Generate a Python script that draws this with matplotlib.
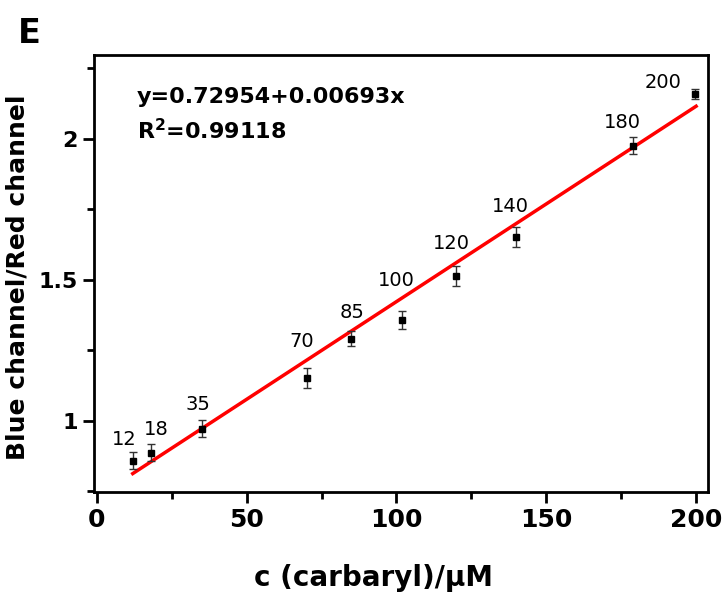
import matplotlib
matplotlib.use("Agg")
import matplotlib.pyplot as plt
from matplotlib.ticker import MultipleLocator
import numpy as np

plt.rcParams['font.family'] = ['DejaVu Sans']

# data
conc = [12, 18, 35, 70, 85, 102, 120, 140, 179, 199.5]
labels = ["12", "18", "35", "70", "85", "100", "120", "140", "180", "200"]
ratio = [0.858, 0.887, 0.972, 1.152, 1.291, 1.358, 1.514, 1.652, 1.975, 2.160]
err = [0.030, 0.030, 0.030, 0.035, 0.026, 0.032, 0.035, 0.035, 0.030, 0.018]
intercept = 0.72954
slope = 0.00693
fit_range = [12, 200]

# label offsets in pixels (style)
label_offsets = [(-8, 21), (6, 23), (-4, 24), (-5, 36), (1, 26), (-6, 39),
                 (-5, 32), (-6, 30), (-11, 23), (-32, 11)]

fig = plt.figure(figsize=(7.27, 6.02), dpi=100)
ax = fig.add_axes([0.129, 0.183, 0.845, 0.726])

xf = np.array(fit_range)
ax.plot(xf, intercept + slope * xf, color='#ff0000', lw=2.5, zorder=2)
ax.errorbar(conc, ratio, yerr=err, fmt='s', color='black', ms=4,
            ecolor='#333333', elinewidth=1, capsize=3, capthick=1, zorder=3)

for x, y, lab, (dx, dy) in zip(conc, ratio, labels, label_offsets):
    ax.annotate(lab, (x, y), xytext=(dx, dy), textcoords='offset pixels',
                ha='center', va='center', fontsize=14)

ax.text(0.07, 0.926, "y=0.72954+0.00693x\nR$^\\mathbf{2}$=0.99118",
        transform=ax.transAxes, ha='left', va='top', fontsize=16,
        fontweight='bold', linespacing=1.5)

ax.set_xlim(-1, 204)
ax.set_ylim(0.748, 2.298)
ax.xaxis.set_major_locator(MultipleLocator(50))
ax.xaxis.set_minor_locator(MultipleLocator(25))
ax.set_yticks([1, 1.5, 2])
ax.set_yticklabels(["1", "1.5", "2"])
ax.yaxis.set_minor_locator(MultipleLocator(0.25))
ax.tick_params(which='major', direction='out', length=8, width=2,
               top=False, right=False)
ax.tick_params(which='minor', direction='out', length=5, width=2,
               top=False, right=False)
ax.tick_params(axis='x', labelsize=18)
ax.tick_params(axis='y', labelsize=16)
for lab in ax.get_xticklabels() + ax.get_yticklabels():
    lab.set_fontweight('bold')
for s in ax.spines.values():
    s.set_linewidth(2)

ax.set_xlabel("c (carbaryl)/μM", fontsize=20, fontweight='bold', va='center')
ax.set_ylabel("Blue channel/Red channel", fontsize=18, fontweight='bold', va='center')
ax.xaxis.set_label_coords(0.455, -0.197)
ax.yaxis.set_label_coords(-0.124, 0.49)

fig.text(0.025, 0.945, "E", fontsize=24, fontweight='bold', ha='left', va='center')

fig.savefig("out.png", dpi=100)
